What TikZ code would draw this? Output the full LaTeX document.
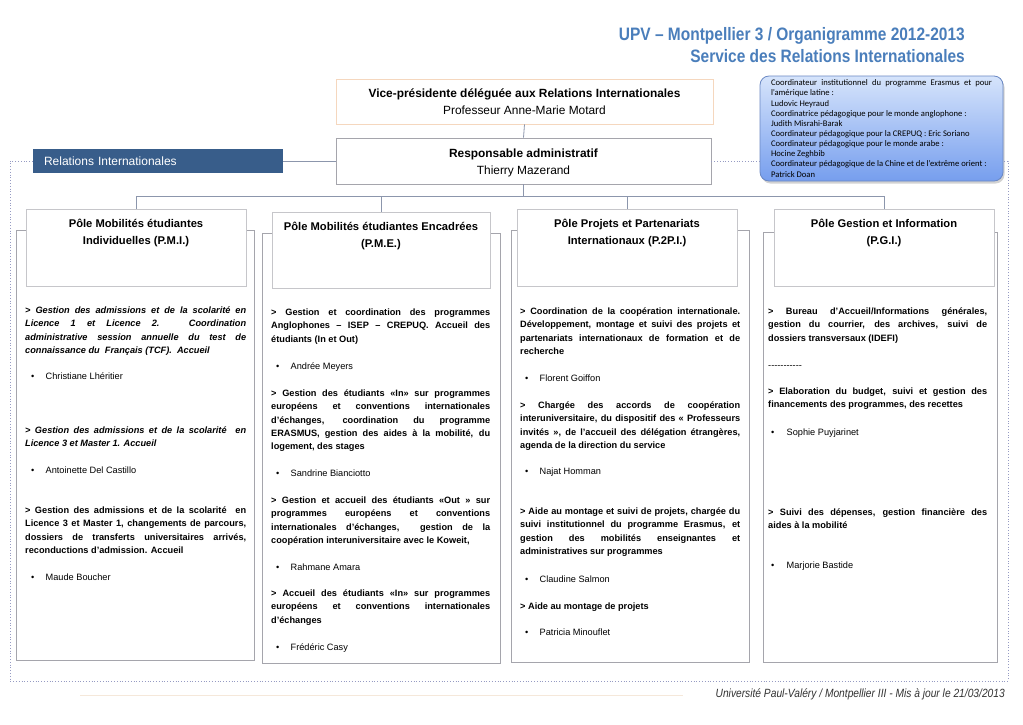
\documentclass[tikz,border=0pt]{standalone}
\usepackage{fontspec}
\setmainfont{Liberation Sans}
\newfontfamily\narrowf[FakeStretch=0.86]{Liberation Sans}
\newfontfamily\calib{Carlito}
\usetikzlibrary{fit,shadows}
\definecolor{titleblue}{RGB}{74,126,187}
\definecolor{barblue}{RGB}{56,93,138}
\definecolor{boxgray}{RGB}{165,165,172}
\definecolor{hdrgray}{RGB}{198,198,202}
\definecolor{linegray}{RGB}{140,150,172}
\definecolor{framecol}{RGB}{150,155,195}
\definecolor{peach}{RGB}{245,215,190}
\definecolor{calltop}{RGB}{214,228,251}
\definecolor{callbot}{RGB}{118,158,238}
\definecolor{callborder}{RGB}{105,135,195}
\definecolor{footline}{RGB}{245,232,218}
\newcommand{\bodyf}{\fontsize{9.2}{13.3}\selectfont\pretolerance=10000\tolerance=10000\hbadness=10000\hyphenpenalty=10000}
\newcommand{\callf}{\calib\fontsize{8.6}{10.15}\selectfont\pretolerance=10000\tolerance=10000\hbadness=10000\hyphenpenalty=10000}
\newcommand{\dashrow}{-\kern0pt-\kern0pt-\kern0pt-\kern0pt-\kern0pt-\kern0pt-\kern0pt-\kern0pt-\kern0pt-\kern0pt-}
\begin{document}
\begin{tikzpicture}[x=1pt,y=-1pt,
 obox/.style={draw=boxgray, line width=0.8pt, fill=white, inner sep=0pt},
 hbox/.style={draw=hdrgray, line width=0.8pt, fill=white, inner sep=0pt},
 htext/.style={anchor=north, align=center, inner sep=0pt, font=\fontsize{11.2}{17.5}\selectfont\bfseries, execute at begin node=\strut},
 para/.style={anchor=north west, inner sep=0pt, text width=#1, align=justify, font=\bodyf\bfseries, yshift=6.9pt, execute at begin node=\strut},
 ipara/.style={para=#1, font=\bodyf\bfseries\itshape},
 persona/.style={anchor=mid west, inner sep=0pt, font=\bodyf},
 tree/.style={draw=linegray, line width=0.8pt},
 frame/.style={draw=framecol, line width=0.8pt, dotted},
 topbox/.style={line width=0.8pt, align=center, inner sep=0pt, font=\fontsize{11.9}{17}\selectfont},
]
\useasboundingbox[fill=white] (0,0) rectangle (1023,724);

% titles
\node[anchor=mid east, inner sep=0pt, text=titleblue, font=\narrowf\bfseries\fontsize{18}{22}\selectfont] (t1) at (965,38) {UPV – Montpellier 3 / Organigramme 2012-2013};
\node[anchor=mid east, inner sep=0pt, text=titleblue, font=\narrowf\bfseries\fontsize{18}{22}\selectfont] (t2) at (965,60) {Service des Relations Internationales};

% top boxes
\node[topbox, draw=peach, minimum width=377pt, minimum height=45pt] (vp) at (524.5,101.5) {\textbf{Vice-présidente déléguée aux Relations Internationales}\\Professeur Anne-Marie Motard};
\node[topbox, draw=boxgray, minimum width=375pt, minimum height=46pt] (resp) at (523.5,161) {\rule{0pt}{12.7pt}\textbf{Responsable administratif}\\Thierry Mazerand};
\node[fill=barblue, minimum width=250pt, minimum height=24pt, text width=228pt, inner xsep=11pt, inner ysep=0pt, align=left, text=white, font=\fontsize{12}{14}\selectfont] (bar) at (158,161) {Relations Internationales};
\node[rounded corners=9pt, draw=callborder, line width=0.8pt, top color=calltop, bottom color=callbot, drop shadow={shadow xshift=1.5pt, shadow yshift=-2.5pt, opacity=0.35}, minimum width=243pt, minimum height=105pt, text width=221pt, inner xsep=11pt, inner ysep=0pt, align=justify, font=\callf] (call) at (881.5,128.5) {Coordinateur institutionnel du programme Erasmus et pour\linebreak
l’amérique latine~:\\
Ludovic Heyraud\\
Coordinatrice pédagogique pour le monde anglophone~:\\
Judith Misrahi-Barak\\
Coordinateur pédagogique pour la CREPUQ~: Eric Soriano\\
Coordinateur pédagogique pour le monde arabe~:\\
Hocine Zeghbib\\
Coordinateur pédagogique de la Chine et de l’extrême orient~:\\
Patrick Doan};

% frame and links
\coordinate (fl) at (10,681);
\coordinate (fr) at (1008,681);
\draw[frame] (bar.west) -| (fl) -- (fr) |- (call.east |- resp.east);
\draw[frame] (resp.east) -- (resp.east -| call.west);
\draw[tree] (resp.west) -- (bar.east);
\draw[tree] (vp.south) -- (resp.north);

% pole boxes
\node[obox, fit={(16,230) (254,660)}] (o1) {};
\node[obox, fit={(262,233) (500,663)}] (o2) {};
\node[obox, fit={(511,230) (749,662)}] (o3) {};
\node[obox, fit={(763,232) (997,662)}] (o4) {};
\node[hbox, fit={(26,209) (246,286)}] (h1) {};
\node[hbox, fit={(272,212) (490,288)}] (h2) {};
\node[hbox, fit={(517,209) (737,286)}] (h3) {};
\node[hbox, fit={(774,209) (994,286)}] (h4) {};

\coordinate (bus) at (523.5,196);
\draw[tree] (resp.south) -- (bus);
\draw[tree] (bus) -| (h1.north);
\draw[tree] (bus) -| (h2.north);
\draw[tree] (bus) -| (h3.north);
\draw[tree] (bus) -| (h4.north);

\node[htext] (ht1) at ([yshift=-10pt]h1.north) {Pôle Mobilités étudiantes\\Individuelles (P.M.I.)};
\node[htext] (ht2) at ([yshift=-10pt]h2.north) {Pôle Mobilités étudiantes Encadrées\\(P.M.E.)};
\node[htext] (ht3) at ([yshift=-10pt]h3.north) {Pôle Projets et Partenariats\\Internationaux (P.2P.I.)};
\node[htext] (ht4) at ([yshift=-10pt]h4.north) {Pôle Gestion et Information\\(P.G.I.)};

% column 1
\node[ipara=221pt] (p1a) at (25,311) {> Gestion des admissions et de la scolarité en\linebreak Licence 1 et Licence 2. Coordination\linebreak administrative session annuelle du test de\linebreak connaissance du~ Français (TCF).~ Accueil};
\node[persona] (n1a) at (31,377) {\makebox[14.5pt][l]{•}Christiane Lhéritier};
\node[ipara=221pt] (p1b) at (25,431) {> Gestion des admissions et de la scolarité~ en\linebreak Licence 3 et Master 1. Accueil};
\node[persona] (n1b) at (31,471) {\makebox[14.5pt][l]{•}Antoinette Del Castillo};
\node[para=221pt] (p1c) at (25,511) {> Gestion des admissions et de la scolarité~ en\linebreak Licence 3 et Master 1, changements de parcours,\linebreak dossiers de transferts universitaires arrivés,\linebreak reconductions d'admission. Accueil};
\node[persona] (n1c) at (31,578) {\makebox[14.5pt][l]{•}Maude Boucher};

% column 2
\node[para=219pt] (p2a) at (271,313) {> Gestion et coordination des programmes\linebreak Anglophones – ISEP – CREPUQ. Accueil des\linebreak étudiants (In et Out)};
\node[persona] (n2a) at (276,367) {\makebox[14.5pt][l]{•}Andrée Meyers};
\node[para=219pt] (p2b) at (271,394) {> Gestion des étudiants «In» sur programmes\linebreak européens et conventions internationales\linebreak d'échanges, coordination du programme\linebreak ERASMUS, gestion des aides à la mobilité, du\linebreak logement, des stages};
\node[persona] (n2b) at (276,474) {\makebox[14.5pt][l]{•}Sandrine Bianciotto};
\node[para=219pt] (p2c) at (271,501) {> Gestion et accueil des étudiants «Out » sur\linebreak programmes européens et conventions\linebreak internationales d'échanges,~ gestion de la\linebreak coopération interuniversitaire avec le Koweit,};
\node[persona] (n2c) at (276,568) {\makebox[14.5pt][l]{•}Rahmane Amara};
\node[para=219pt] (p2d) at (271,594) {> Accueil des étudiants «In» sur programmes\linebreak européens et conventions internationales\linebreak d'échanges};
\node[persona] (n2d) at (276,648) {\makebox[14.5pt][l]{•}Frédéric Casy};

% column 3
\node[para=220pt] (p3a) at (520,312) {> Coordination de la coopération internationale.\linebreak Développement, montage et suivi des projets et\linebreak partenariats internationaux de formation et de\linebreak recherche};
\node[persona] (n3a) at (525,379) {\makebox[14.5pt][l]{•}Florent Goiffon};
\node[para=220pt] (p3b) at (520,406) {> Chargée des accords de coopération\linebreak interuniversitaire, du dispositif des « Professeurs\linebreak invités », de l'accueil des délégation étrangères,\linebreak agenda de la direction du service};
\node[persona] (n3b) at (525,472) {\makebox[14.5pt][l]{•}Najat Homman};
\node[para=220pt] (p3c) at (520,512) {> Aide au montage et suivi de projets, chargée du\linebreak suivi institutionnel du programme Erasmus, et\linebreak gestion des mobilités enseignantes et\linebreak administratives sur programmes};
\node[persona] (n3c) at (525,580) {\makebox[14.5pt][l]{•}Claudine Salmon};
\node[para=220pt] (p3d) at (520,607) {> Aide au montage de projets};
\node[persona] (n3d) at (525,633) {\makebox[14.5pt][l]{•}Patricia Minouflet};

% column 4
\node[para=219pt] (p4a) at (768,312) {> Bureau d’Accueil/Informations générales,\linebreak gestion du courrier, des archives, suivi de\linebreak dossiers transversaux (IDEFI)};
\node[persona] (p4b) at (768,366) {\dashrow};
\node[para=219pt] (p4c) at (768,392) {> Elaboration du budget, suivi et gestion des\linebreak financements des programmes, des recettes};
\node[persona] (n4c) at (771,433) {\makebox[15.5pt][l]{•}Sophie Puyjarinet};
\node[para=219pt] (p4d) at (768,513) {> Suivi des dépenses, gestion financière des\linebreak aides à la mobilité};
\node[persona] (n4d) at (771,566) {\makebox[15.5pt][l]{•}Marjorie Bastide};

% footer
\draw[footline, line width=0.8pt] (80,695) -- (683,695);
\node[anchor=mid east, inner sep=0pt, text=black!80, font=\narrowf\itshape\fontsize{11.9}{14}\selectfont] (foot) at (1005,695) {Université Paul-Valéry / Montpellier III - Mis à jour le 21/03/2013};
\end{tikzpicture}
\end{document}
